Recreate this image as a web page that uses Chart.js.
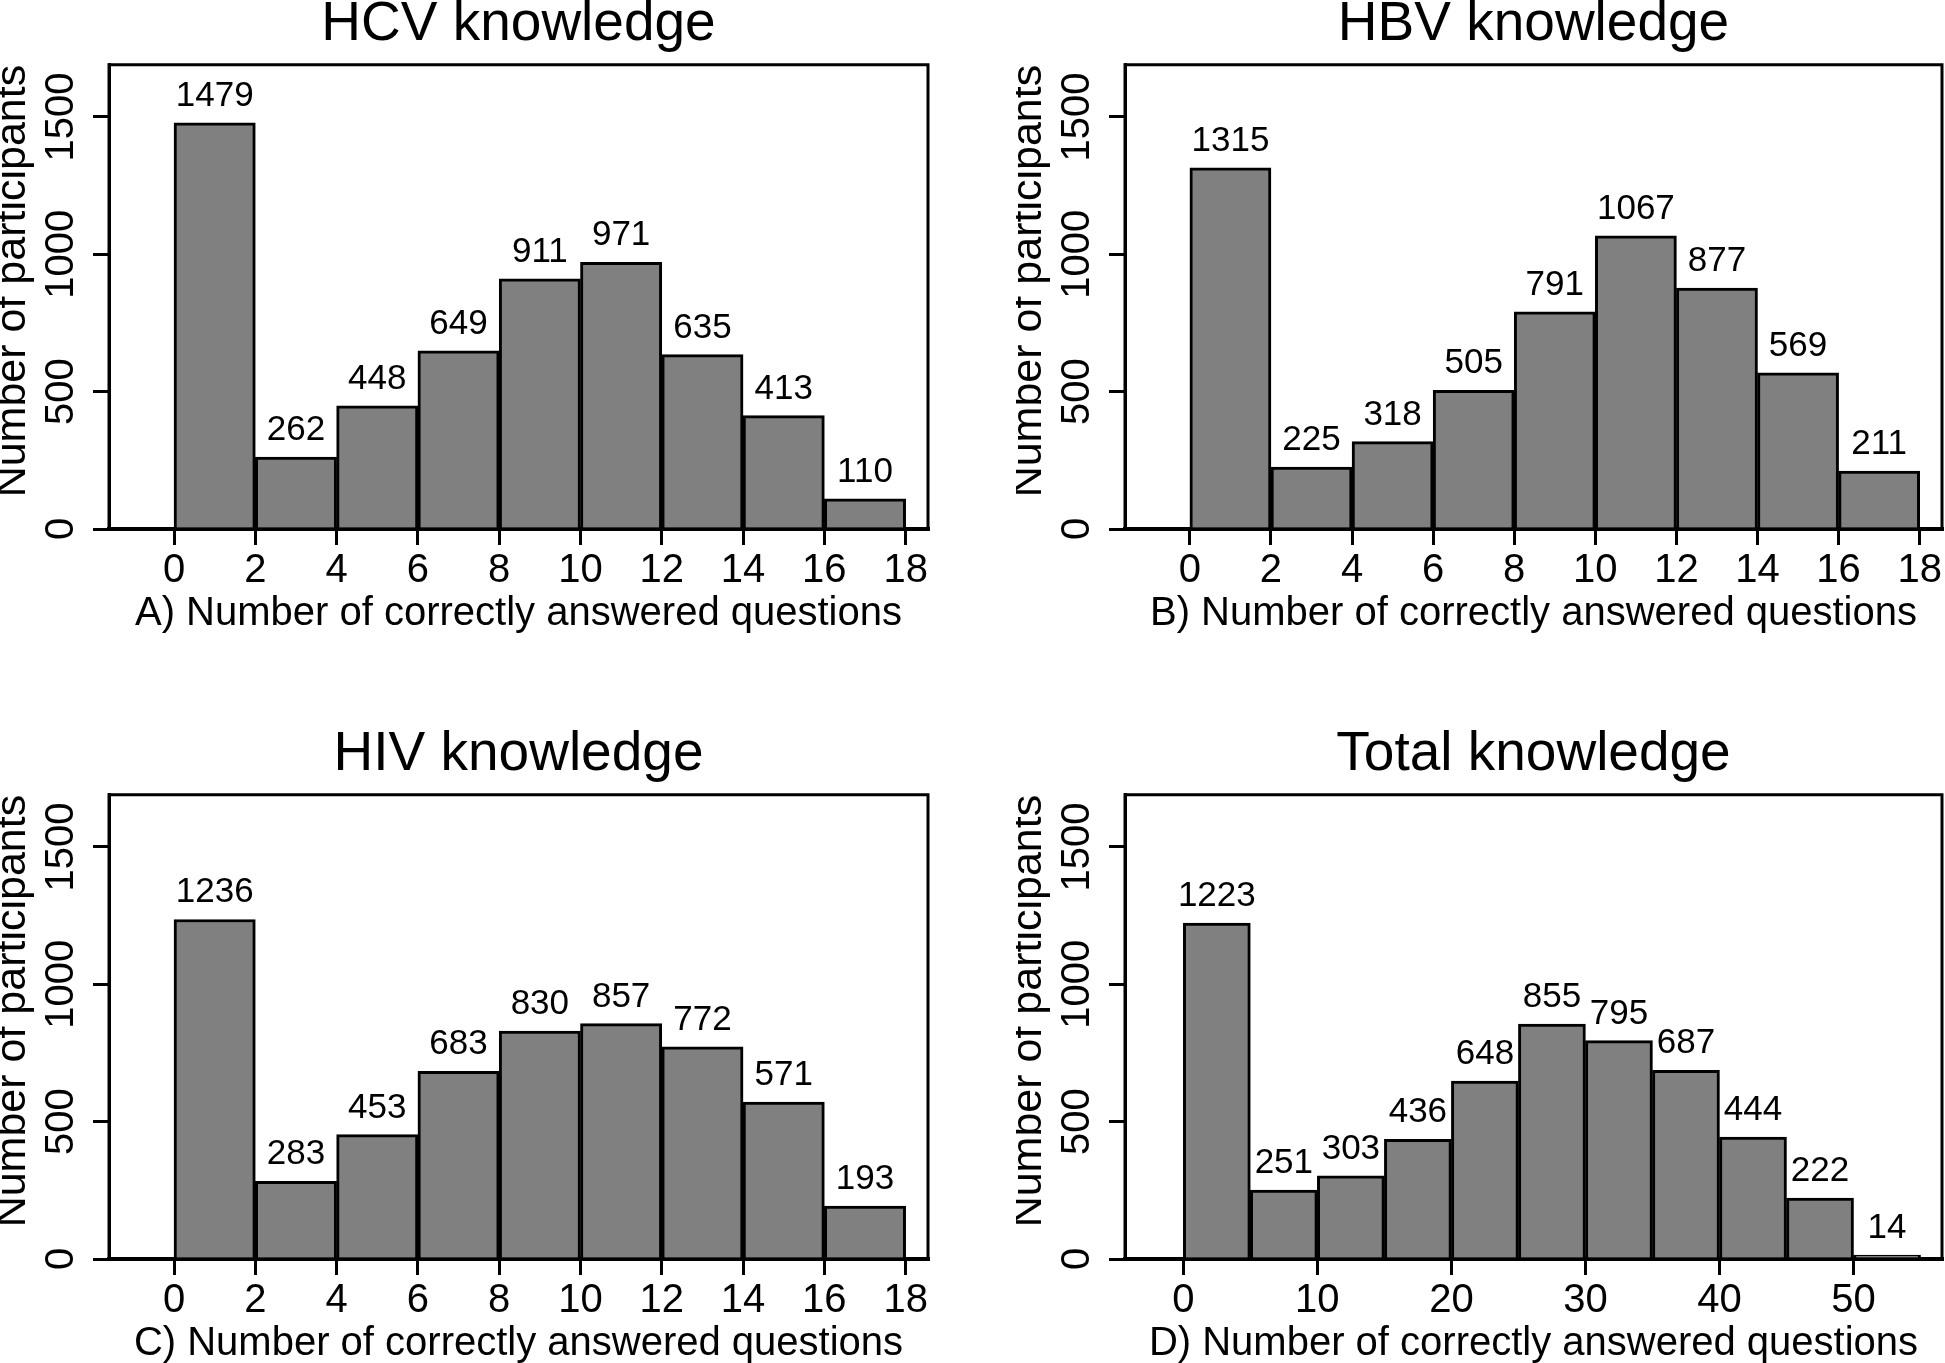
<!DOCTYPE html>
<html>
<head>
<meta charset="utf-8">
<script src="https://cdn.jsdelivr.net/npm/chart.js@4.4.0/dist/chart.umd.min.js"></script>
<style>
  html, body { margin: 0; padding: 0; background: #fff; }
  body { width: 1945px; height: 1363px; position: relative; overflow: hidden; }
  canvas { position: absolute; }
</style>
</head>
<body>
<canvas id="hcv" width="972" height="640" style="left:0px;top:0px"></canvas>
<canvas id="hbv" width="929" height="640" style="left:1016px;top:0px"></canvas>
<canvas id="hiv" width="972" height="633" style="left:0px;top:730px"></canvas>
<canvas id="total" width="929" height="633" style="left:1016px;top:730px"></canvas>
<script>
// bins (lower edge) and counts
var hcvBins = [0, 2, 4, 6, 8, 10, 12, 14, 16];
var hcvCounts = [1479, 262, 448, 649, 911, 971, 635, 413, 110];

var hbvBins = [0, 2, 4, 6, 8, 10, 12, 14, 16];
var hbvCounts = [1315, 225, 318, 505, 791, 1067, 877, 569, 211];

var hivBins = [0, 2, 4, 6, 8, 10, 12, 14, 16];
var hivCounts = [1236, 283, 453, 683, 830, 857, 772, 571, 193];

var totalBins = [0, 5, 10, 15, 20, 25, 30, 35, 40, 45, 50];
var totalCounts = [1223, 251, 303, 436, 648, 855, 795, 687, 444, 222, 14];

var questionTicks = [0, 2, 4, 6, 8, 10, 12, 14, 16, 18];
var totalTicks = [0, 10, 20, 30, 40, 50];
var countTicks = [0, 500, 1000, 1500];

var FONT = '"Liberation Sans", Arial, Helvetica, sans-serif';

// value labels on top of bars + the frame round the plot area
var boxAndLabels = {
  id: 'boxAndLabels',
  afterDatasetsDraw: function(chart) {
    var ctx = chart.ctx;
    var a = chart.chartArea;
    var pts = chart.data.datasets[0].data;
    ctx.save();
    ctx.fillStyle = '#000';
    ctx.font = '35px ' + FONT;
    ctx.textAlign = 'center';
    ctx.textBaseline = 'alphabetic';
    chart.getDatasetMeta(0).data.forEach(function(bar, i) {
      ctx.fillText(String(pts[i].y), bar.x, bar.y - 17);
    });
    ctx.strokeStyle = '#000';
    ctx.lineWidth = 3;
    ctx.beginPath();
    ctx.moveTo(a.left, a.bottom);
    ctx.lineTo(a.left, a.top);
    ctx.lineTo(a.right, a.top);
    ctx.lineTo(a.right, a.bottom);
    ctx.stroke();
    ctx.restore();
  }
};

function makeHist(id, title, xTitle, bins, width, counts, xTicks, xMin, xMax, padRight) {
  var canvas = document.getElementById(id);
  var pts = bins.map(function(b, i) { return {x: b + width / 2, y: counts[i]}; });
  return new Chart(canvas.getContext('2d'), {
    type: 'bar',
    data: {
      datasets: [{
        data: pts,
        backgroundColor: '#808080',
        borderColor: '#000',
        borderWidth: 3,
        borderSkipped: 'start',
        barPercentage: 1,
        categoryPercentage: 1
      }]
    },
    options: {
      responsive: false,
      animation: false,
      layout: { padding: { left: 0, right: padRight, top: 0, bottom: canvas.height - 626 } },
      plugins: {
        legend: { display: false },
        tooltip: { enabled: false },
        title: {
          display: true,
          text: title,
          color: '#000',
          fullSize: false,
          font: { family: FONT, size: 55, weight: 'normal', lineHeight: 0.887 },
          padding: { top: 0, bottom: 16 }
        }
      },
      scales: {
        x: {
          type: 'linear',
          min: xMin,
          max: xMax,
          offset: false,
          z: 1,
          afterBuildTicks: function(s) { s.ticks = xTicks.map(function(v) { return {value: v}; }); },
          afterFit: function(s) { s.height = 97; },
          grid: { drawOnChartArea: false, drawTicks: true, tickLength: 16, lineWidth: 3, tickWidth: 3, color: '#000', offset: false },
          border: { display: true, color: '#000', width: 4 },
          ticks: {
            color: '#000', autoSkip: false, maxRotation: 0, padding: 1.5,
            font: { family: FONT, size: 40 },
            callback: function(v) { return String(v); }
          },
          title: {
            display: true, text: xTitle, color: '#000', padding: 0,
            font: { family: FONT, size: 40, lineHeight: 0.6 }
          }
        },
        y: {
          min: 0,
          max: 1690,
          z: 1,
          afterBuildTicks: function(s) { s.ticks = countTicks.map(function(v) { return {value: v}; }); },
          afterFit: function(s) { s.width = 109; },
          grid: { drawOnChartArea: false, drawTicks: true, tickLength: 16, lineWidth: 3, tickWidth: 3, color: '#000' },
          border: { display: true, color: '#000', width: 3 },
          ticks: {
            color: '#000', autoSkip: false, minRotation: 90, maxRotation: 90,
            crossAlign: 'center', padding: -13.5,
            font: { family: FONT, size: 40 },
            callback: function(v) { return String(v); }
          },
          title: {
            display: true, text: 'Number of participants', color: '#000', align: 'end', padding: 0,
            font: { family: FONT, size: 43, lineHeight: 0.605 }
          }
        }
      }
    },
    plugins: [boxAndLabels]
  });
}

makeHist('hcv', 'HCV knowledge', 'A) Number of correctly answered questions',
  hcvBins, 2, hcvCounts, questionTicks, -1.6, 18.55, 44);
makeHist('hbv', 'HBV knowledge', 'B) Number of correctly answered questions',
  hbvBins, 2, hbvCounts, questionTicks, -1.6, 18.55, 3);
makeHist('hiv', 'HIV knowledge', 'C) Number of correctly answered questions',
  hivBins, 2, hivCounts, questionTicks, -1.6, 18.55, 44);
makeHist('total', 'Total knowledge', 'D) Number of correctly answered questions',
  totalBins, 5, totalCounts, totalTicks, -4.35, 56.6, 3);
</script>
</body>
</html>
